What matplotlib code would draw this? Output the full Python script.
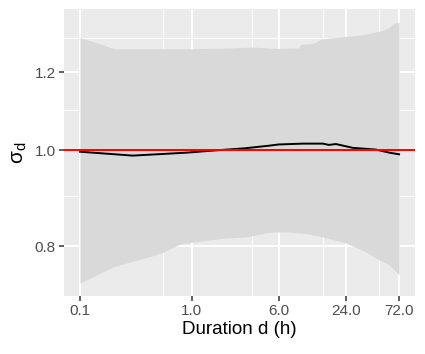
import numpy as np
import matplotlib
matplotlib.use('Agg')
import matplotlib.pyplot as plt
from matplotlib.ticker import FixedLocator, NullFormatter

plt.rcParams['font.family'] = ['Liberation Sans', 'DejaVu Sans']
plt.rcParams['mathtext.fontset'] = 'custom'
plt.rcParams['mathtext.rm'] = 'Liberation Sans'
plt.rcParams['mathtext.it'] = 'Liberation Sans:italic'

# central estimate of sigma_d against duration
dur = [0.1, 0.144, 0.296, 0.573, 0.92, 1.61, 2.99, 4.9, 6.0, 9.9, 15.0, 16.9, 19.6, 27.8, 44.7, 58.5, 72.0]
sigma = [0.997, 0.994, 0.988, 0.992, 0.995, 1.000, 1.005, 1.011, 1.014, 1.016, 1.016, 1.013, 1.015, 1.006, 1.002, 0.995, 0.991]

# band limits
band_x = [0.1, 0.153, 0.2, 0.43, 1.0, 2.24, 3.52, 5.3, 9.0, 9.5, 12.4, 14.4, 25.0, 34.9, 49.5, 57.3, 64.9, 72.0]
band_hi = [1.301, 1.282, 1.268, 1.268, 1.268, 1.270, 1.273, 1.269, 1.270, 1.281, 1.284, 1.297, 1.305, 1.310, 1.322, 1.330, 1.346, 1.349]
low_x = [0.1, 0.204, 0.466, 0.573, 0.78, 1.0, 1.98, 3.05, 4.9, 6.96, 10.5, 15.0, 24.0, 34.2, 47.5, 58.5, 72.0]
band_lo = [0.734, 0.763, 0.783, 0.790, 0.803, 0.807, 0.815, 0.817, 0.826, 0.827, 0.824, 0.817, 0.806, 0.792, 0.775, 0.766, 0.748]

xbreaks = [0.1, 1.0, 6.0, 24.0, 72.0]
xlabels = ['0.1', '1.0', '6.0', '24.0', '72.0']
ybreaks = [0.8, 1.0, 1.2]
ylabels = ['0.8', '1.0', '1.2']

fig = plt.figure(figsize=(4.25, 3.54), dpi=100)
ax = fig.add_axes([64/425, 1-296/354, (415-64)/425, (296-9)/354])
ax.set_facecolor('#EBEBEB')

# ribbon on a common grid
gx = np.array(sorted(set(band_x) | set(low_x)))
hi = np.interp(np.log(gx), np.log(band_x), band_hi)
lo = np.interp(np.log(gx), np.log(low_x), band_lo)
ax.fill_between(gx, lo, hi, color='#D9D9D9', lw=0, zorder=2)

ax.axhline(1.0, color='#FF0000', lw=1.4, zorder=4)
ax.plot(dur, sigma, color='black', lw=1.4, zorder=3)

ax.set_xscale('log')
ax.set_yscale('log')
ax.set_xlim(10**-1.143, 10**2.0)
ax.set_ylim(0.712, 1.391)

ax.xaxis.set_major_locator(FixedLocator(xbreaks))
ax.set_xticklabels(xlabels)
ax.xaxis.set_minor_locator(FixedLocator([0.55, 3.5, 15, 48]))
ax.xaxis.set_minor_formatter(NullFormatter())
ax.yaxis.set_major_locator(FixedLocator(ybreaks))
ax.set_yticklabels(ylabels)
ax.yaxis.set_minor_locator(FixedLocator([0.9, 1.1, 1.3]))
ax.yaxis.set_minor_formatter(NullFormatter())

ax.grid(which='major', color='white', lw=1.4, zorder=1)
ax.grid(which='minor', color='white', lw=0.7, zorder=1)
ax.set_axisbelow(True)
for s in ax.spines.values():
    s.set_visible(False)

ax.tick_params(which='major', length=3.5, width=1.1, color='#333333',
               labelcolor='#4D4D4D', labelsize=11, pad=2.5)
ax.tick_params(which='minor', length=0)

ax.set_xlabel('Duration d (h)', fontsize=13.5, labelpad=2)
ax.set_ylabel(r'$\mathrm{\sigma_d}$', fontsize=15, labelpad=4)

fig.savefig('out.png', dpi=100)
